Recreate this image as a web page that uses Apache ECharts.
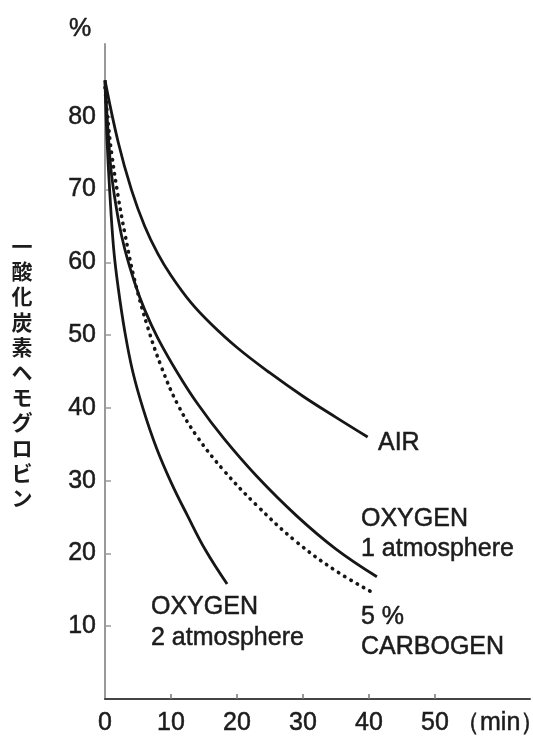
<!DOCTYPE html>
<html>
<head>
<meta charset="utf-8">
<script src="https://cdn.jsdelivr.net/npm/echarts@6/dist/echarts.min.js"></script>
<style>
html,body{margin:0;padding:0;background:#fff;}
#c{width:533px;height:738px;}
</style>
</head>
<body>
<div id="c"></div>
<script>
// ---- data ----
var xTicks = [0, 10, 20, 30, 40, 50];
var yTicks = [10, 20, 30, 40, 50, 60, 70, 80];

var airX = [0, 2, 4, 6, 8, 10, 13, 16, 20, 25, 30, 35, 39.8];
var airY = [85, 76.5, 70, 65, 61.2, 58.2, 54.5, 51.6, 48.3, 44.8, 41.6, 38.7, 36];

var oxy1X = [0, 0.5, 1, 2, 3, 4.5, 6, 8, 11, 14, 18, 23, 29, 35, 41.2];
var oxy1Y = [85, 77.5, 72, 66, 61.8, 57.2, 53.5, 49.6, 44.8, 40.6, 35.8, 30.6, 25.2, 20.6, 16.8];

var carbX = [0, 0.5, 1, 2, 3, 4.5, 6.5, 8.6, 11, 14, 18, 23, 29, 35, 40.6];
var carbY = [84, 79, 75, 69, 64, 57.5, 51, 45.5, 40.5, 36, 31.4, 26.6, 21.6, 17.6, 14.6];

var oxy2X = [0, 0.3, 0.7, 1.3, 2, 3, 4.2, 5.8, 7.8, 10.1, 12.5, 15.2, 18.5];
var oxy2Y = [85, 77, 70, 62, 56.5, 50.5, 45, 39.8, 34.5, 29.6, 25.2, 20.5, 15.8];

var yAxisName = '一酸化炭素ヘモグロビン';
var yUnit = '%';
var xUnit = '（min）';
var labelAir = 'AIR';
var labelOxy1 = ['OXYGEN', '1 atmosphere'];
var labelCarb = ['5 %', 'CARBOGEN'];
var labelOxy2 = ['OXYGEN', '2 atmosphere'];

function zip(xs, ys) { return xs.map(function (x, i) { return [x, ys[i]]; }); }

var FONT = "'Liberation Sans', Arial, Helvetica, sans-serif";
var TXT = '#1c1c1c';
var FS = 25;

var chart = echarts.init(document.getElementById('c'), null, {renderer: 'canvas'});

function solid(name, data) {
  return {
    name: name, type: 'line', data: data, smooth: 0.4,
    symbol: 'none', showSymbol: false,
    lineStyle: {color: '#161616', width: 2.8}
  };
}

var option = {
  animation: false,
  backgroundColor: '#ffffff',
  grid: {left: 105, right: 3, top: 44, bottom: 39},
  xAxis: {
    type: 'value', min: 0, max: 64.4, interval: 10,
    splitLine: {show: false},
    axisLine: {show: true, lineStyle: {color: '#444', width: 2}},
    axisTick: {show: true, inside: true, length: 5, customValues: [10, 20, 30, 40, 50], lineStyle: {color: '#777', width: 1.5}},
    axisLabel: {customValues: xTicks, margin: 12, color: TXT, fontSize: FS, fontFamily: FONT,
      textBorderColor: TXT, textBorderWidth: 0.5}
  },
  yAxis: {
    type: 'value', min: 0, max: 90, interval: 10,
    splitLine: {show: false},
    axisLine: {show: true, lineStyle: {color: '#999', width: 2}},
    axisTick: {show: true, inside: true, length: 6, customValues: yTicks, lineStyle: {color: '#999', width: 1.5}},
    axisLabel: {customValues: yTicks, margin: 9, color: TXT, fontSize: FS, fontFamily: FONT,
      textBorderColor: TXT, textBorderWidth: 0.5}
  },
  series: [
    solid('AIR', zip(airX, airY)),
    solid('OXYGEN 1 atmosphere', zip(oxy1X, oxy1Y)),
    {
      name: '5 % CARBOGEN', type: 'line', data: zip(carbX, carbY), smooth: 0.4,
      symbol: 'none', showSymbol: false,
      lineStyle: {color: '#161616', width: 3.6, type: [0.4, 6.8], cap: 'round'}
    },
    solid('OXYGEN 2 atmosphere', zip(oxy2X, oxy2Y))
  ],
  graphic: []
};

function txt(str, x, y, opts) {
  opts = opts || {};
  return {
    type: 'text', x: x, y: y, silent: true,
    style: {
      text: str, fill: TXT, font: (opts.weight || 'normal') + ' ' + (opts.size || FS) + 'px ' + (opts.family || FONT),
      align: opts.align || 'left', verticalAlign: 'middle',
      lineHeight: opts.lineHeight,
      stroke: opts.noStroke ? null : TXT, lineWidth: opts.noStroke ? 0 : 0.5
    }
  };
}

option.graphic = [
  txt(yUnit, 80, 29, {align: 'center'}),
  txt(yAxisName.split('').join('\n'), 22, 372, {align: 'center', size: 21, lineHeight: 25.2, weight: 'bold', noStroke: true, family: "'Noto Sans CJK JP', sans-serif"}),
  txt(xUnit, 455, 723, {}),
  txt(labelAir, 378, 443),
  txt(labelOxy1[0], 361, 519),
  txt(labelOxy1[1], 361, 549),
  txt(labelCarb[0], 361, 617),
  txt(labelCarb[1], 361, 647),
  txt(labelOxy2[0], 151, 607),
  txt(labelOxy2[1], 151, 638)
];

chart.setOption(option);
</script>
</body>
</html>
